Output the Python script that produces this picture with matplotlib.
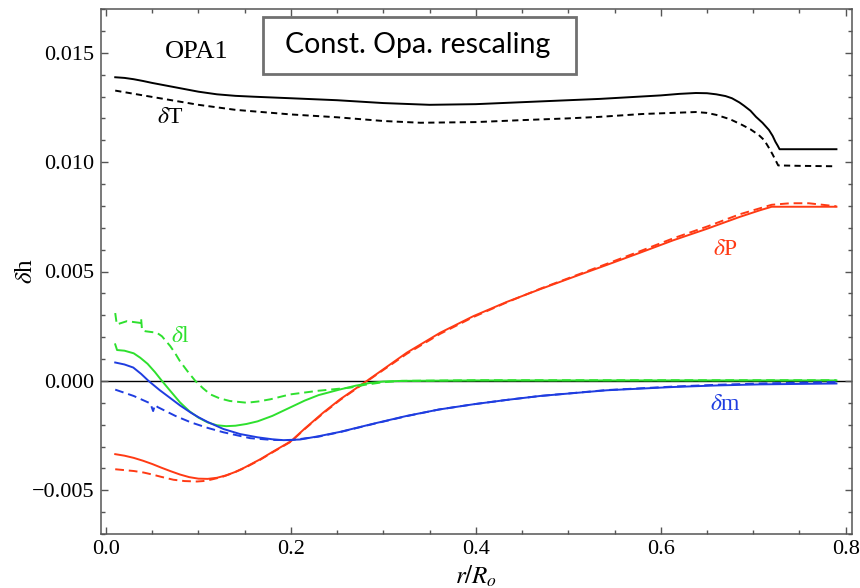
import matplotlib
matplotlib.use("Agg")
import matplotlib.pyplot as plt
from matplotlib.ticker import MultipleLocator, FuncFormatter, FixedLocator
from matplotlib.patches import Rectangle

# ---------------- data ----------------
T_solid_x = [0.01, 0.02, 0.03, 0.04, 0.05, 0.065, 0.08, 0.10, 0.12, 0.14, 0.16, 0.20,
             0.25, 0.30, 0.35, 0.40, 0.45, 0.50, 0.534, 0.60, 0.62, 0.638, 0.65, 0.66,
             0.67, 0.677, 0.685, 0.69, 0.697, 0.703, 0.71, 0.717, 0.721, 0.724,
             0.7265, 0.7285, 0.79]
T_solid_y = [0.01388, 0.01385, 0.01379, 0.01371, 0.01362, 0.01350, 0.01338, 0.01322,
             0.01310, 0.01303, 0.01299, 0.01292, 0.01283, 0.01270, 0.01262, 0.01265,
             0.01274, 0.01283, 0.01289, 0.01305, 0.01312, 0.01316, 0.01315, 0.01310,
             0.01302, 0.01292, 0.01273, 0.01258, 0.01235, 0.01207, 0.01180, 0.01147,
             0.01120, 0.01093, 0.01075, 0.01059, 0.01059]

T_dash_x = [0.01, 0.05, 0.10, 0.14, 0.20, 0.25, 0.30, 0.34, 0.40, 0.45, 0.50, 0.534,
            0.58, 0.638, 0.65, 0.66, 0.675, 0.688, 0.697, 0.706, 0.712, 0.717, 0.721,
            0.724, 0.727, 0.75, 0.79]
T_dash_y = [0.01327, 0.01298, 0.01262, 0.01239, 0.01218, 0.01205, 0.01188, 0.01180,
            0.01183, 0.01192, 0.01200, 0.01207, 0.01220, 0.01229, 0.01225, 0.01216,
            0.01196, 0.01170, 0.01150, 0.01124, 0.01100, 0.01065, 0.01035, 0.01010,
            0.00985, 0.00983, 0.00981]

P_solid_x = [0.01, 0.02, 0.03, 0.04, 0.05, 0.06, 0.07, 0.08, 0.09, 0.10, 0.11, 0.12,
             0.13, 0.14, 0.15, 0.167, 0.18, 0.20, 0.215, 0.235, 0.2533, 0.2822, 0.3254,
             0.3614, 0.3974, 0.4335, 0.4695, 0.5056, 0.5416, 0.5777, 0.6137, 0.6498,
             0.6857, 0.7073, 0.72, 0.79]
P_solid_y = [-0.00335, -0.00342, -0.00352, -0.00365, -0.00380, -0.00397, -0.00413,
             -0.00428, -0.00440, -0.00447, -0.00448, -0.00443, -0.00432, -0.00416,
             -0.00396, -0.00358, -0.00325, -0.00276, -0.00218, -0.00145, -0.00084,
             0.0, 0.00129, 0.00220, 0.00296, 0.00361, 0.00419, 0.00475, 0.00530,
             0.00586, 0.00643, 0.00695, 0.00750, 0.00780, 0.00796, 0.00796]

P_dash_x = [0.01, 0.02, 0.03, 0.0407, 0.05, 0.06, 0.073, 0.085, 0.0984, 0.105, 0.113,
            0.125, 0.138, 0.15, 0.167, 0.18, 0.20, 0.215, 0.235, 0.2533, 0.2822, 0.3254,
            0.3614, 0.3974, 0.4335, 0.4695, 0.5056, 0.5416, 0.5777, 0.6137, 0.6498,
            0.6857, 0.72, 0.74, 0.76, 0.79]
P_dash_y = [-0.00404, -0.00408, -0.00412, -0.00419, -0.00428, -0.00439, -0.00452,
            -0.00458, -0.00460, -0.00458, -0.00452, -0.00440, -0.00420, -0.00398,
            -0.00360, -0.00327, -0.00278, -0.00220, -0.00148, -0.00087, -0.00002,
            0.00124, 0.00215, 0.00292, 0.00359, 0.00421, 0.00478, 0.00535, 0.00593,
            0.00652, 0.00705, 0.00762, 0.00805, 0.00812, 0.00812, 0.00798]

l_solid_x = [0.01, 0.012, 0.02, 0.03, 0.037, 0.045, 0.053, 0.0605, 0.07, 0.08, 0.09,
             0.10, 0.11, 0.12, 0.13, 0.14, 0.152, 0.164, 0.18, 0.20, 0.215, 0.23,
             0.2533, 0.27, 0.285, 0.30, 0.32, 0.40, 0.50, 0.60, 0.70, 0.79]
l_solid_y = [0.00167, 0.00141, 0.00138, 0.00126, 0.00106, 0.00078, 0.00040, 0.0,
             -0.00048, -0.00098, -0.00138, -0.00168, -0.00190, -0.00203, -0.00207,
             -0.00205, -0.00197, -0.00185, -0.00160, -0.00120, -0.00090, -0.00065,
             -0.00039, -0.00022, -0.00010, -0.00003, 0.0, 0.00002, 0.00002, 0.00002,
             0.00002, 0.00002]

l_dash_x = [0.01, 0.0117, 0.0227, 0.0371, 0.038, 0.039, 0.0425, 0.055, 0.0605,
            0.0695, 0.075, 0.080, 0.088, 0.0966, 0.105, 0.113, 0.123, 0.134, 0.1524,
            0.165, 0.178, 0.199, 0.23, 0.264, 0.28, 0.30, 0.32, 0.40, 0.50, 0.60,
            0.70, 0.79]
l_dash_y = [0.00310, 0.00258, 0.00273, 0.00265, 0.00285, 0.00232, 0.00227, 0.00220,
            0.00204, 0.00159, 0.00125, 0.00090, 0.00045, 0.0, -0.00034, -0.00062,
            -0.00080, -0.00092, -0.00100, -0.00094, -0.00084, -0.00062, -0.00045,
            -0.00031, -0.00018, -0.00006, 0.0, 0.00003, 0.00003, 0.00003, 0.00003,
            0.00003]

m_solid_x = [0.01, 0.02, 0.0295, 0.038, 0.046, 0.058, 0.07, 0.08, 0.092, 0.10, 0.11,
             0.127, 0.145, 0.164, 0.18, 0.192, 0.21, 0.23, 0.2533, 0.29, 0.3254, 0.36,
             0.3974, 0.4335, 0.4695, 0.5416, 0.6137, 0.66, 0.7073, 0.79]
m_solid_y = [0.00084, 0.00075, 0.00061, 0.00032, 0.0, -0.00042, -0.00080, -0.00112,
             -0.00146, -0.00166, -0.00188, -0.00220, -0.00243, -0.00258, -0.00267,
             -0.00271, -0.00268, -0.00253, -0.00233, -0.00195, -0.00160, -0.00131,
             -0.00107, -0.00087, -0.00069, -0.00043, -0.00028, -0.00021, -0.00016,
             -0.00012]

m_dash_x = [0.01, 0.03, 0.048, 0.051, 0.053, 0.056, 0.075, 0.092, 0.11, 0.127, 0.156,
            0.18, 0.20, 0.23, 0.2533, 0.29, 0.3254, 0.36, 0.3974, 0.4335, 0.4695,
            0.5416, 0.6137, 0.66, 0.7073, 0.79]
m_dash_y = [-0.00040, -0.00069, -0.00103, -0.00138, -0.00110, -0.00120, -0.00160,
            -0.00190, -0.00215, -0.00235, -0.00262, -0.00270, -0.00271, -0.00255,
            -0.00234, -0.00196, -0.00161, -0.00131, -0.00107, -0.00087, -0.00069,
            -0.00042, -0.00026, -0.00018, -0.00012, -0.00005]

x_ticks = [0.0, 0.2, 0.4, 0.6, 0.8]
y_ticks = [-0.005, 0.0, 0.005, 0.010, 0.015]

# ---------------- style ----------------
RED = "#ff3a14"
GREEN = "#2ee02e"
BLUE = "#1f3de0"
SPINE = "#555555"
SERIF = ["Liberation Serif", "DejaVu Serif"]

plt.rcParams["mathtext.fontset"] = "stix"
plt.rcParams["font.family"] = SERIF

W, H = 860, 588
fig = plt.figure(figsize=(W / 100, H / 100), dpi=100)
ax = fig.add_axes([100.7 / W, 1 - 534 / H, (851.7 - 100.7) / W, (534 - 9) / H])

lw = 1.4
ax.axhline(0, color="black", lw=1.0, zorder=1)
ax.plot(T_solid_x, T_solid_y, color="black", lw=lw)
ax.plot(T_dash_x, T_dash_y, color="black", lw=lw, dashes=(3.2, 2.2))
ax.plot(P_solid_x, P_solid_y, color=RED, lw=lw)
ax.plot(P_dash_x, P_dash_y, color=RED, lw=lw, dashes=(4.5, 2.5))
ax.plot(l_solid_x, l_solid_y, color=GREEN, lw=lw)
ax.plot(l_dash_x, l_dash_y, color=GREEN, lw=lw, dashes=(4.5, 2.5))
ax.plot(m_solid_x, m_solid_y, color=BLUE, lw=lw)
ax.plot(m_dash_x, m_dash_y, color=BLUE, lw=lw, dashes=(4.5, 2.5))

ax.set_xlim(-0.0057, 0.8065)
ax.set_ylim(-0.007, 0.017)

ax.xaxis.set_major_locator(FixedLocator(x_ticks))
ax.yaxis.set_major_locator(FixedLocator(y_ticks))
ax.xaxis.set_minor_locator(MultipleLocator(0.05))
ax.yaxis.set_minor_locator(MultipleLocator(0.001))
ax.xaxis.set_major_formatter(FuncFormatter(lambda v, p: f"{v:.1f}"))
ax.yaxis.set_major_formatter(
    FuncFormatter(lambda v, p: ("\u2212" if v < -1e-12 else "") + f"{abs(v):.3f}"))

ax.tick_params(which="both", direction="in", top=True, right=True, color=SPINE,
               width=1.0, labelsize=16, labelcolor="black",
               labelfontfamily="Liberation Serif")
ax.tick_params(which="major", length=5, pad=4.5)
ax.tick_params(which="minor", length=3)
for s in ax.spines.values():
    s.set_color(SPINE)
    s.set_linewidth(1.1)

# axis labels
fig.text(25.5 / W, 1 - 271 / H, r"$\delta$h", rotation=90, ha="center", va="center",
         fontsize=18)
fig.text(476 / W, 1 - 576 / H, r"$r/R_o$", ha="center", va="center", fontsize=18)

# annotations
fig.text(197 / W, 1 - 51.7 / H, "OPA1", ha="center", va="center", fontsize=19)
fig.text(170 / W, 1 - 117 / H, r"$\delta$T", ha="center", va="center", fontsize=17,
         color="black")
fig.text(180 / W, 1 - 336 / H, r"$\delta$l", ha="center", va="center", fontsize=17,
         color=GREEN)
fig.text(725 / W, 1 - 250 / H, r"$\delta$P", ha="center", va="center", fontsize=17,
         color=RED)
fig.text(725 / W, 1 - 404 / H, r"$\delta$m", ha="center", va="center", fontsize=17,
         color=BLUE)

# box with title
box = Rectangle((262.7 / W, 1 - 74 / H), (576 - 262.7) / W, (74 - 16.7) / H,
                transform=fig.transFigure, facecolor="white", edgecolor="#707070",
                lw=2.0, zorder=5)
fig.patches.append(box)
fig.text(418 / W, 1 - 45.5 / H, "Const. Opa. rescaling", ha="center", va="center",
         fontsize=20.5, family=["Lato", "DejaVu Sans"], zorder=6)

fig.savefig("out.png", dpi=100)
